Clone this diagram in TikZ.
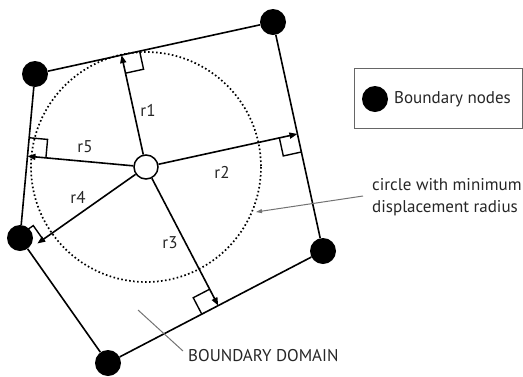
\documentclass[tikz,border=0pt]{standalone}
\usepackage{fontspec}
\setmainfont{PT Sans}
\usetikzlibrary{calc,arrows.meta}
\begin{document}
\begin{tikzpicture}[x=1pt,y=-1pt,
  bnode/.style={circle,fill=black,minimum size=26pt,inner sep=0pt},
  cnode/.style={circle,draw=black,line width=1.5pt,fill=white,minimum size=24pt,inner sep=0pt},
  edgeline/.style={line width=1.6pt},
  radarrow/.style={line width=1.6pt,-{Triangle[length=8pt,width=6pt]}},
  rmark/.style={line width=1.4pt},
  dotcircle/.style={line width=1.7pt,dash pattern=on 1.6pt off 2.4pt},
  lbl/.style={font=\fontsize{17}{22.5}\selectfont,text=black!85,inner sep=0pt},
  pointer/.style={draw=black!55,line width=1pt}]
\useasboundingbox (0,0) rectangle (523,376);
% boundary nodes
\node[bnode] (A) at (35,74) {};
\node[bnode] (B) at (273,22) {};
\node[bnode] (C) at (323,251) {};
\node[bnode] (D) at (108,363) {};
\node[bnode] (E) at (20,238) {};
% centre
\node[cnode] (O) at (146,167) {};
% dotted circle
\draw[dotcircle] (O.center) circle[radius=115];
% boundary edges
\draw[edgeline] (A) -- (B) -- (C) -- (D) -- (E) -- (A);
% feet of perpendiculars
\coordinate (F1) at ($(A)!(O)!(B)$);
\coordinate (F2) at ($(B)!(O)!(C)$);
\coordinate (F3) at ($(C)!(O)!(D)$);
\coordinate (F4r) at ($(D)!(O)!(E)$);
\coordinate (F4) at ($(F4r)!11pt!(O)$);
\coordinate (F5) at ($(E)!(O)!(A)$);
\coordinate (G1) at (B);
\coordinate (G2) at (C);
\coordinate (G3) at (D);
\coordinate (G4) at ($(F4)+(E)-(D)$);
\coordinate (G5) at (A);
% right angle marks
\foreach \i in {1,2,3,5}{
  \coordinate (p) at ($(F\i)!18.5pt!(G\i)$);
  \coordinate (q) at ($(F\i)!18.5pt!(O)$);
  \draw[rmark] (p) -- ($(p)+(q)-(F\i)$) -- (q);
}
\coordinate (p4) at ($(F4)!17pt!(G4)$);
\coordinate (q4) at ($(F4)!7pt!(O)$);
\draw[rmark] (p4) -- ($(p4)+(q4)-(F4)$) -- (q4);
% radius arrows
\foreach \i in {1,...,5}{
  \draw[radarrow] (O) -- (F\i);
}
% radius labels
\node[lbl] (r1) at (148,110) {r1};
\node[lbl] (r2) at (222,172) {r2};
\node[lbl] (r3) at (170,243) {r3};
\node[lbl] (r4) at (78,197) {r4};
\node[lbl] (r5) at (85,147) {r5};
% legend
\node[draw=black!60,line width=1pt,minimum width=168pt,minimum height=60pt,inner sep=0pt] (legend) at (438,98) {};
\node[bnode] (L) at (375,99) {};
\node[lbl,anchor=west] (Ltext) at (394,99) {Boundary nodes};
% circle label
\node[lbl,anchor=west,align=left] (clabel) at (372,197) {circle with minimum\\displacement radius};
\coordinate (cptr) at (363,196);
\coordinate (ctip) at (256,212);
\draw[pointer,-{Triangle[length=6pt,width=4pt]}] (cptr) -- (ctip);
% domain label
\node[lbl,anchor=west] (dlabel) at (188,356) {BOUNDARY DOMAIN};
\coordinate (dptr) at (183,351);
\coordinate (dtip) at (138,310);
\draw[pointer] (dptr) -- (dtip);
\end{tikzpicture}
\end{document}
